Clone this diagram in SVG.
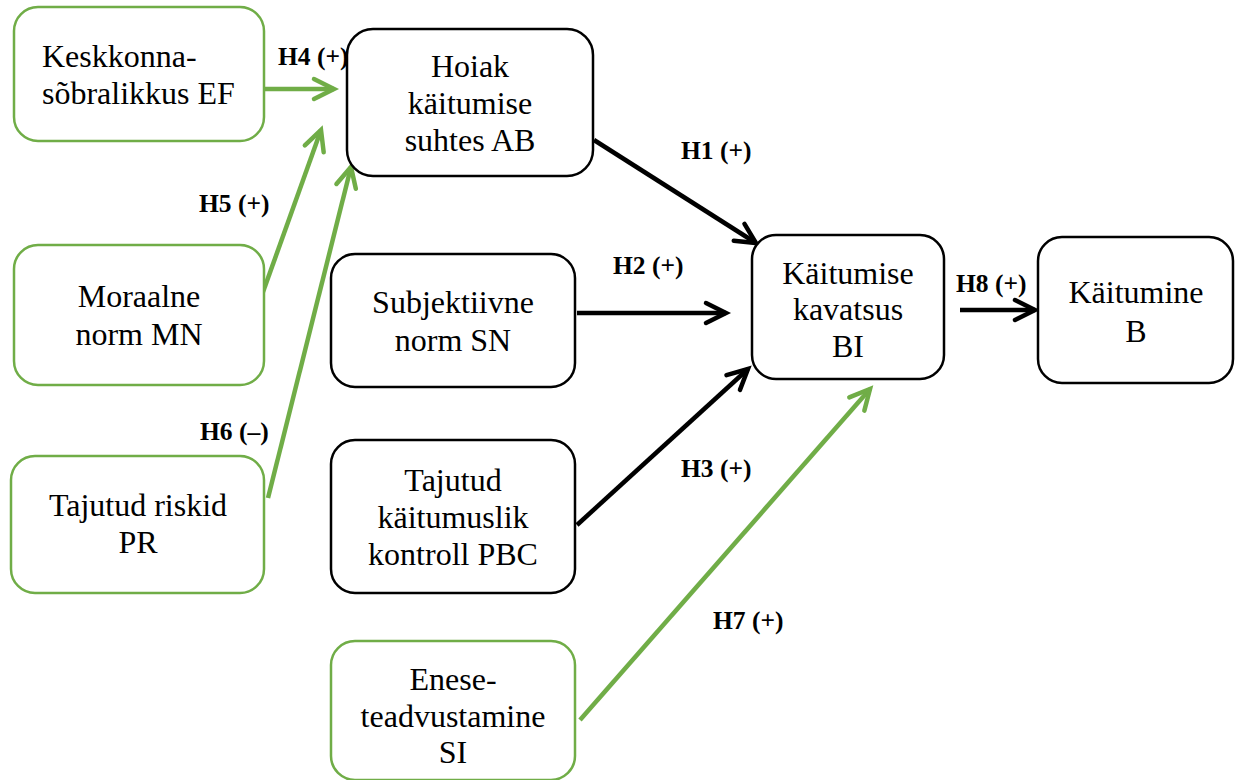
<svg xmlns="http://www.w3.org/2000/svg" width="1238" height="780" viewBox="0 0 1238 780">
<defs>
<style>
.box{fill:#fff;stroke:#000;stroke-width:2.5}
.gbox{fill:#fff;stroke:#70AD47;stroke-width:2.5}
.t{font-family:"Liberation Serif","Times New Roman",serif;font-size:32px;fill:#000;text-anchor:middle}
.tl{text-anchor:start}
.lbl{font-family:"Liberation Serif","Times New Roman",serif;font-size:25.5px;font-weight:bold;fill:#000}
.k{stroke:#000;stroke-width:4.5;fill:none}
.g{stroke:#70AD47;stroke-width:4.5;fill:none}
</style>
<marker id="ak" markerUnits="userSpaceOnUse" orient="auto" markerWidth="40" markerHeight="40" viewBox="-30 -20 40 40" refX="0" refY="0" overflow="visible">
<path d="M-20,-10 L0,0 L-20,10" fill="none" stroke="#000" stroke-width="4.5" stroke-linecap="round" stroke-linejoin="miter"/>
</marker>
<marker id="ag" markerUnits="userSpaceOnUse" orient="auto" markerWidth="40" markerHeight="40" viewBox="-30 -20 40 40" refX="0" refY="0" overflow="visible">
<path d="M-20,-10 L0,0 L-20,10" fill="none" stroke="#70AD47" stroke-width="4.5" stroke-linecap="round" stroke-linejoin="miter"/>
</marker>
</defs>
<rect width="1238" height="780" fill="#fff"/>

<g id="connectors">
<line class="g" x1="265" y1="89" x2="334" y2="89" marker-end="url(#ag)"/>
<line class="g" x1="263" y1="292" x2="321" y2="130" marker-end="url(#ag)"/>
<line class="g" x1="268" y1="498" x2="351" y2="167" marker-end="url(#ag)"/>
<line class="k" x1="594" y1="140" x2="756" y2="243" marker-end="url(#ak)"/>
<line class="k" x1="577" y1="313" x2="726" y2="313" marker-end="url(#ak)"/>
<line class="k" x1="577" y1="525" x2="748" y2="369" marker-end="url(#ak)"/>
<line class="g" x1="580" y1="720" x2="870" y2="389" marker-end="url(#ag)"/>
<line class="k" x1="960" y1="310" x2="1035" y2="310" marker-end="url(#ak)"/>
</g>

<g id="labels">
<text class="lbl" x="278" y="65">H4 (+)</text>
<text class="lbl" x="199" y="212">H5 (+)</text>
<text class="lbl" x="200" y="440">H6 (–)</text>
<text class="lbl" x="681" y="159">H1 (+)</text>
<text class="lbl" x="613" y="274">H2 (+)</text>
<text class="lbl" x="681" y="477">H3 (+)</text>
<text class="lbl" x="713" y="629">H7 (+)</text>
<text class="lbl" x="956" y="292">H8 (+)</text>
</g>

<g id="node-EF">
<rect class="gbox" x="14" y="7" width="250" height="134" rx="24"/>
<text class="t tl" x="42" y="67">Keskkonna-</text>
<text class="t tl" x="42" y="104">sõbralikkus EF</text>
</g>
<g id="node-MN">
<rect class="gbox" x="14" y="245" width="250" height="140" rx="24"/>
<text class="t" x="139" y="307">Moraalne</text>
<text class="t" x="139" y="345">norm MN</text>
</g>
<g id="node-PR">
<rect class="gbox" x="11" y="456" width="253" height="137" rx="24"/>
<text class="t" x="138" y="516">Tajutud riskid</text>
<text class="t" x="138" y="553">PR</text>
</g>
<g id="node-AB">
<rect class="box" x="347" y="29" width="246" height="147" rx="26"/>
<text class="t" x="470" y="77">Hoiak</text>
<text class="t" x="470" y="114">käitumise</text>
<text class="t" x="470" y="151">suhtes AB</text>
</g>
<g id="node-SN">
<rect class="box" x="331" y="254" width="244" height="133" rx="24"/>
<text class="t" x="453" y="313">Subjektiivne</text>
<text class="t" x="453" y="351">norm SN</text>
</g>
<g id="node-PBC">
<rect class="box" x="331" y="440" width="244" height="153" rx="24"/>
<text class="t" x="453" y="491">Tajutud</text>
<text class="t" x="453" y="528">käitumuslik</text>
<text class="t" x="453" y="565">kontroll PBC</text>
</g>
<g id="node-SI">
<rect class="gbox" x="331" y="641" width="244" height="139" rx="24"/>
<text class="t" x="453" y="690">Enese-</text>
<text class="t" x="453" y="727">teadvustamine</text>
<text class="t" x="453" y="763">SI</text>
</g>
<g id="node-BI">
<rect class="box" x="752" y="235" width="192" height="144" rx="24"/>
<text class="t" x="848" y="284">Käitumise</text>
<text class="t" x="848" y="320">kavatsus</text>
<text class="t" x="848" y="357">BI</text>
</g>
<g id="node-B">
<rect class="box" x="1038" y="237" width="195" height="146" rx="24"/>
<text class="t" x="1136" y="303">Käitumine</text>
<text class="t" x="1136" y="342">B</text>
</g>
</svg>
